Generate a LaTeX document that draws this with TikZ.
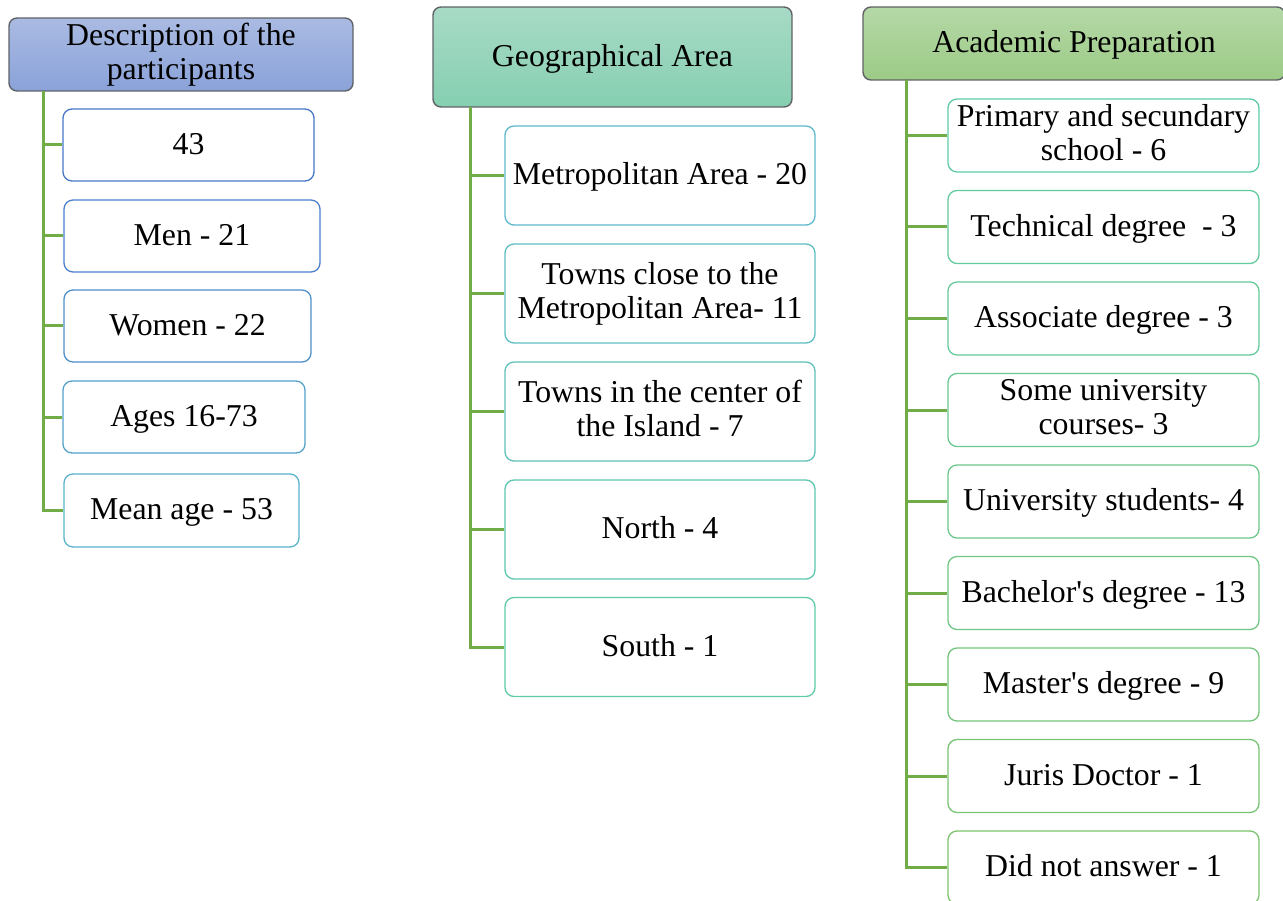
\documentclass[tikz,border=0pt]{standalone}
\usepackage{fontspec}
\setmainfont{Liberation Serif}
\usepackage{xcolor}
\usepackage{tikz}
\usetikzlibrary{calc,positioning}

\definecolor{trunkgreen}{HTML}{70AD47}
\definecolor{headline}{HTML}{5F6368}
\definecolor{descTop}{HTML}{AABBE2}
\definecolor{descBot}{HTML}{8AA2D9}
\definecolor{geoTop}{HTML}{A8DAC6}
\definecolor{geoBot}{HTML}{86CFB1}
\definecolor{acadTop}{HTML}{B5D8A7}
\definecolor{acadBot}{HTML}{9CCB86}
\definecolor{leafBlue}{HTML}{4676C8}
\definecolor{leafCyan}{HTML}{5BB8CC}
\definecolor{leafTeal}{HTML}{5ECBA6}
\definecolor{leafGreen}{HTML}{7DC36B}

\newcommand\linestrut{\rule[-0.216em]{0pt}{1.016em}}
\newcommand\boxfont{\fontsize{31.8}{34}\selectfont\lineskiplimit=-100pt\relax}

\tikzset{
  boxtext/.style={align=center,inner sep=0pt,font=\boxfont,
    execute at begin node=\linestrut,text depth=6.9pt},
  head/.style={boxtext,draw=headline,line width=1.4pt,rounded corners=8pt},
  leaf/.style={boxtext,draw,fill=white,line width=1.3pt,rounded corners=9pt},
  link/.style={trunkgreen,line width=3pt},
}

\begin{document}
\begin{tikzpicture}[x=1pt,y=-1pt]
  \useasboundingbox (0,0) rectangle (1283,901);
  \clip (0,0) rectangle (1283,901);

  % left column
  \node (desc) [head,top color=descTop,bottom color=descBot,minimum width=344,minimum height=73] at (181,54.5) {Description of the\\participants};
  \node (d1) [leaf,draw=leafBlue,minimum width=251,minimum height=72] at (188.5,145) {43};
  \node (d2) [leaf,draw=leafBlue!85!leafCyan,minimum width=256,minimum height=72] at (192,236) {Men - 21};
  \node (d3) [leaf,draw=leafBlue!60!leafCyan,minimum width=247,minimum height=72] at (187.5,326) {Women - 22};
  \node (d4) [leaf,draw=leafBlue!35!leafCyan,minimum width=242,minimum height=72] at (184,417) {Ages 16-73};
  \node (d5) [leaf,draw=leafBlue!10!leafCyan,minimum width=235,minimum height=73] at (181.5,510.5) {Mean age - 53};
  \coordinate (t1) at (43,91);
  \draw [link] (t1) |- (d1.west);
  \draw [link] (t1) |- (d2.west);
  \draw [link] (t1) |- (d3.west);
  \draw [link] (t1) |- (d4.west);
  \draw [link] (t1) |- (d5.west);

  % middle column
  \node (geo) [head,top color=geoTop,bottom color=geoBot,minimum width=359,minimum height=100] at (612.5,57) {Geographical Area};
  \node (g1) [leaf,draw=leafCyan,minimum width=310,minimum height=99] at (660,175.5) {Metropolitan Area - 20};
  \node (g2) [leaf,draw=leafCyan!75!leafTeal,minimum width=310,minimum height=99] at (660,293.5) {Towns close to the\\Metropolitan Area- 11};
  \node (g3) [leaf,draw=leafCyan!50!leafTeal,minimum width=310,minimum height=99] at (660,411.5) {Towns in the center of\\the Island - 7};
  \node (g4) [leaf,draw=leafCyan!25!leafTeal,minimum width=310,minimum height=99] at (660,529.5) {North - 4};
  \node (g5) [leaf,draw=leafTeal,minimum width=310,minimum height=99] at (660,647) {South - 1};
  \coordinate (t2) at (470,107);
  \draw [link] (t2) |- (g1.west);
  \draw [link] (t2) |- (g2.west);
  \draw [link] (t2) |- (g3.west);
  \draw [link] (t2) |- (g4.west);
  \draw [link] (t2) |- (g5.west);

  % right column
  \node (acad) [head,top color=acadTop,bottom color=acadBot,minimum width=422,minimum height=73] at (1074,43.5) {Academic Preparation};
  \node (a1) [leaf,draw=leafTeal,minimum width=311,minimum height=73] at (1103.5,135.5) {Primary and secundary\\school - 6};
  \node (a2) [leaf,draw=leafTeal!88!leafGreen,minimum width=311,minimum height=73] at (1103.5,227) {Technical degree~ - 3};
  \node (a3) [leaf,draw=leafTeal!76!leafGreen,minimum width=311,minimum height=73] at (1103.5,318.5) {Associate degree - 3};
  \node (a4) [leaf,draw=leafTeal!64!leafGreen,minimum width=311,minimum height=73] at (1103.5,410) {Some university\\courses- 3};
  \node (a5) [leaf,draw=leafTeal!52!leafGreen,minimum width=311,minimum height=73] at (1103.5,501.5) {University students- 4};
  \node (a6) [leaf,draw=leafTeal!40!leafGreen,minimum width=311,minimum height=73] at (1103.5,593) {Bachelor\textquotesingle s degree - 13};
  \node (a7) [leaf,draw=leafTeal!28!leafGreen,minimum width=311,minimum height=73] at (1103.5,684.5) {Master\textquotesingle s degree - 9};
  \node (a8) [leaf,draw=leafTeal!14!leafGreen,minimum width=311,minimum height=73] at (1103.5,776) {Juris Doctor - 1};
  \node (a9) [leaf,draw=leafGreen,minimum width=311,minimum height=73] at (1103.5,867.5) {Did not answer - 1};
  \coordinate (t3) at (906,80);
  \draw [link] (t3) |- (a1.west);
  \draw [link] (t3) |- (a2.west);
  \draw [link] (t3) |- (a3.west);
  \draw [link] (t3) |- (a4.west);
  \draw [link] (t3) |- (a5.west);
  \draw [link] (t3) |- (a6.west);
  \draw [link] (t3) |- (a7.west);
  \draw [link] (t3) |- (a8.west);
  \draw [link] (t3) |- (a9.west);
\end{tikzpicture}
\end{document}
